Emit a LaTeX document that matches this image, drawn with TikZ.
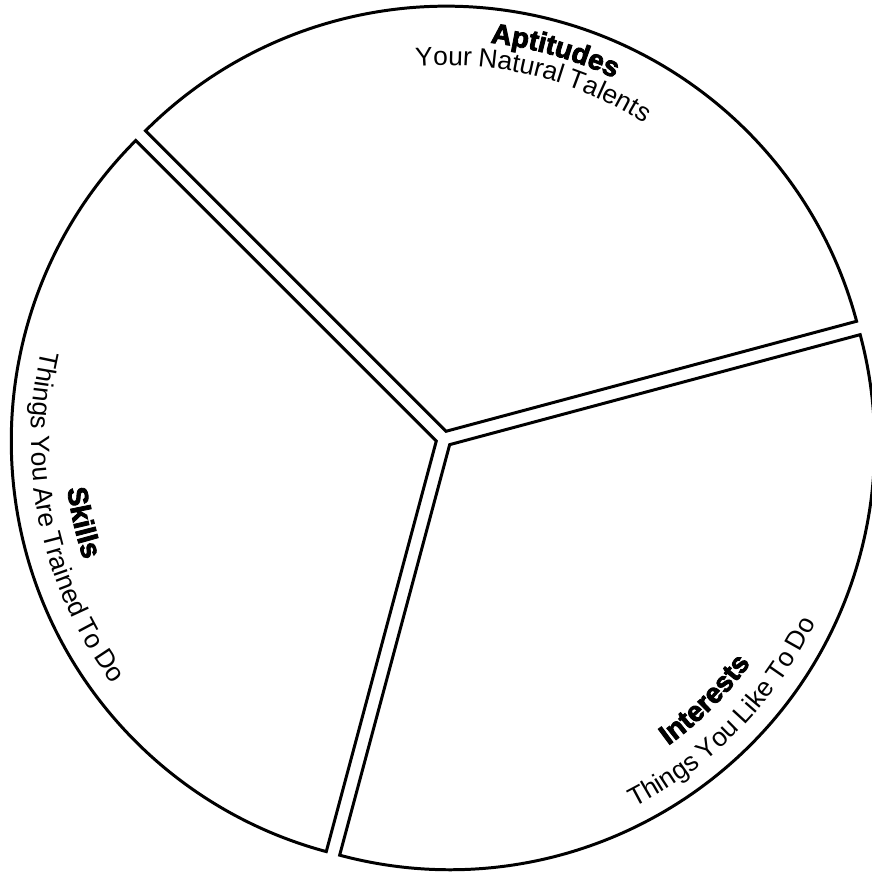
\documentclass[tikz,border=0pt]{standalone}
\usepackage{fontspec}
\newfontfamily\tagfont[WordSpace=0.85]{Liberation Sans}
\newfontfamily\headfont[FakeBold=3]{Liberation Sans Bold}
\usetikzlibrary{decorations.text}

\begin{document}
\begin{tikzpicture}[x=0.02cm, y=0.02cm,
  wedge/.style={draw=black, line width=1.7pt, fill=white},
  heading/.style={decorate, decoration={text along path, text align=center, text={|\headfont\fontsize{16}{18}\selectfont|#1}}},
  tagline/.style={decorate, decoration={text along path, text align=center, text={|\tagfont\fontsize{15}{17}\selectfont|#1}}}
]
  \useasboundingbox (-444,-435) rectangle (427,439);

  \begin{scope}[shift={(75:8)}]
    \draw[wedge] (0,0) -- (15:425) arc[start angle=15, end angle=135, radius=425] -- cycle;
    \path[heading={Aptitudes}] (114:391) arc[start angle=114, end angle=34, radius=391];
    \path[tagline={Your Natural Talents}] (116:366) arc[start angle=116, end angle=36, radius=366];
  \end{scope}

  \begin{scope}[shift={(195:8)}]
    \draw[wedge] (0,0) -- (135:425) arc[start angle=135, end angle=255, radius=425] -- cycle;
    \path[heading={Skills}] (153:372) arc[start angle=153, end angle=233, radius=372];
    \path[tagline={Things You Are Trained To Do}] (152:405) arc[start angle=152, end angle=232, radius=405];
  \end{scope}

  \begin{scope}[shift={(-45:8)}]
    \draw[wedge] (0,0) -- (255:425) arc[start angle=255, end angle=375, radius=425] -- cycle;
    \path[heading={Interests}] (-85:372) arc[start angle=-85, end angle=-5, radius=372];
    \path[tagline={Things You Like To Do}] (-84.5:407) arc[start angle=-84.5, end angle=-4.5, radius=407];
  \end{scope}
\end{tikzpicture}
\end{document}
